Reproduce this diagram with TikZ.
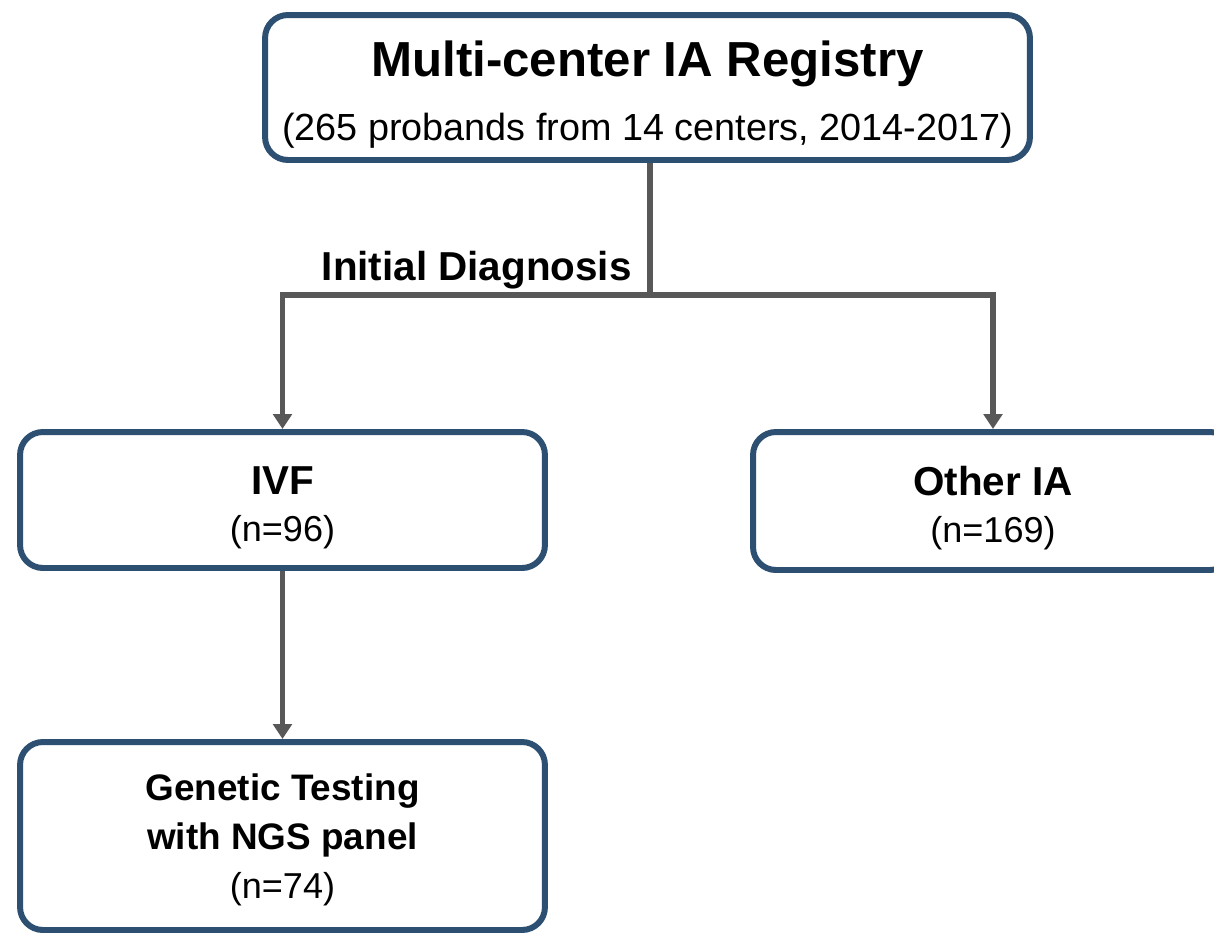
\documentclass[tikz,border=0pt]{standalone}
\usepackage{fontspec}
\setmainfont{Liberation Sans}
\usetikzlibrary{arrows.meta,positioning}
\definecolor{boxblue}{HTML}{2C4F72}
\definecolor{linegray}{HTML}{585858}

\begin{document}
\begin{tikzpicture}[x=0.02cm, y=-0.02cm,
    box/.style = {draw=boxblue, line width=3.4pt, rounded corners=13pt, fill=white,
                  align=center, inner sep=0pt},
    conn/.style = {draw=linegray, line width=3.4pt},
    arr/.style = {conn, -{Triangle[width=10.5pt,length=8.5pt]}},
    head/.style = {font=\fontsize{23}{27}\selectfont\bfseries},
    count/.style = {font=\fontsize{20.5}{27}\selectfont}]
    \useasboundingbox (0,0) rectangle (1214,933);
    \clip (0,0) rectangle (1214,933);

    \node[box, font=\fontsize{21.5}{36}\selectfont, minimum width=15.3cm, minimum height=2.9cm] (registry) at (647.5,87.5)
        {{\fontsize{28}{36}\selectfont\bfseries\rule{0pt}{28.5pt}Multi-center IA Registry}\\
         (265 probands from 14 centers, 2014-2017)};
    \node[box, count, minimum width=10.5cm, minimum height=2.72cm] (ivf) at (282.5,500)
        {{\fontsize{23}{27}\selectfont\bfseries\rule{0pt}{24.5pt}IVF}\\(n=96)};
    \node[box, count, minimum width=9.6cm, minimum height=2.76cm] (other) at (993,501)
        {{\fontsize{23}{27}\selectfont\bfseries\rule{0pt}{24.5pt}Other IA}\\(n=169)};
    \node[box, font=\fontsize{20.5}{28}\selectfont, minimum width=10.5cm, minimum height=3.76cm] (genetic) at (282.5,836)
        {{\fontsize{21}{28}\selectfont\bfseries\rule{0pt}{19.5pt}Genetic Testing}\\
         {\fontsize{21}{28}\selectfont\bfseries with NGS panel}\\(n=74)};

    \coordinate (split) at (650,295);
    \node[head, anchor=base east, inner sep=0pt] (diagnosis) at (632,280) {Initial Diagnosis};

    \draw[conn] (registry.south -| split) -- (split);
    \draw[arr] (split) -| (ivf.north);
    \draw[arr] (split) -| (other.north);
    \draw[arr] (ivf) -- (genetic);
\end{tikzpicture}
\end{document}
